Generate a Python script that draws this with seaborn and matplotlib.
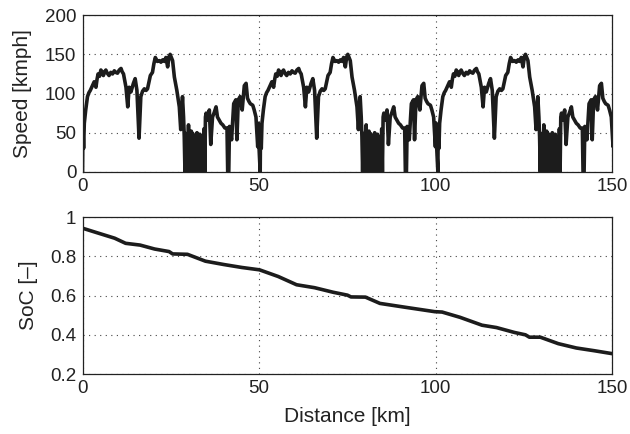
import numpy as np
import pandas as pd
import matplotlib
matplotlib.use("Agg")
import matplotlib.pyplot as plt
import seaborn as sns

# One lap of the drive cycle: distance within the lap [km] and vehicle speed [kmph]
lap_km = [
    0.0, 0.1, 0.3, 0.5, 0.9, 1.4, 1.8, 2.2, 2.8, 3.3, 3.8, 4.1, 4.4, 4.8, 5.2,
    5.6, 5.9, 6.3, 6.6, 7.0, 7.5, 8.0, 8.5, 9.0, 9.4, 9.9, 10.4, 10.9, 11.2,
    11.6, 12.3, 12.8, 13.2, 13.7, 14.4, 14.9, 15.4, 16.0,
    16.5, 17.0, 17.5, 18.0, 18.4, 19.2, 19.8, 20.2, 20.6, 21.2, 21.7, 22.2,
    22.7, 23.2, 23.6, 24.1, 24.5, 24.8, 25.5,
    26.0, 26.7, 27.4, 27.8, 28.3, 28.6, 28.8,
    29.0, 29.2, 29.4, 29.6, 29.8, 30.0, 30.2, 30.4, 30.6, 30.8, 31.0, 31.2,
    31.4, 31.6, 31.8, 32.0, 32.2, 32.4, 32.6, 32.8, 33.0, 33.2, 33.4, 33.6,
    33.8, 34.0, 34.2, 34.4, 34.6, 34.8,
    35.0, 35.4, 35.9, 36.3, 36.8, 37.3, 37.8, 38.2, 38.7, 39.2, 39.7, 40.3,
    40.9, 41.1, 41.4, 41.6, 42.2, 42.8, 43.4, 43.7, 44.1, 44.6, 45.2, 45.8,
    46.3, 46.7, 47.1, 47.5, 48.2, 48.6, 49.1, 49.6, 49.8, 50.0,
]
lap_speed = [
    0, 58, 30, 62, 79, 96, 101, 104, 110, 115, 108, 118, 125, 122, 130,
    127, 123, 128, 130, 126, 123, 127, 125, 129, 127, 126, 130, 132, 128,
    125, 108, 83, 108, 102, 113, 119, 104, 43,
    96, 103, 106, 104, 106, 123, 127, 138, 146, 141, 142, 140,
    143, 141, 146, 134, 147, 150, 142,
    121, 104, 83, 54, 96, 70, 45,
    0, 49, 0, 47, 0, 60, 0, 45, 0, 52, 0, 49, 0, 41, 0, 46, 0, 50, 0, 44,
    0, 48, 0, 40, 0, 45, 0, 55, 0, 70,
    75, 66, 79, 35, 70, 76, 83, 70, 66, 62, 60, 56,
    56, 0, 0, 58, 41, 87, 92, 41, 92, 96, 79, 110,
    113, 94, 90, 87, 85, 79, 70, 32, 62, 28,
]
lap_length_km = 50.3
n_laps = 3

# Battery state of charge along the route
soc_km = [0.0, 3.9, 9.1, 12.2, 16.3, 20.4, 24.5, 25.5, 29.7, 34.8, 40.0, 45.1,
          50.1, 55.4, 60.6, 65.7, 70.9, 75.0, 76.0, 80.1, 84.2, 91.5, 99.7,
          101.8, 106.9, 113.1, 117.2, 122.3, 125.4, 126.5, 129.6, 134.7,
          139.8, 144.9, 150.0]
soc_val = [0.943, 0.921, 0.892, 0.866, 0.857, 0.837, 0.824, 0.812, 0.810,
           0.775, 0.758, 0.743, 0.731, 0.697, 0.655, 0.640, 0.617, 0.602,
           0.593, 0.592, 0.560, 0.540, 0.518, 0.516, 0.489, 0.449, 0.437,
           0.412, 0.400, 0.388, 0.388, 0.355, 0.333, 0.319, 0.304]

# Full route: the lap is driven three times back to back
speed_df = pd.DataFrame({
    "distance": np.concatenate([np.asarray(lap_km) + i * lap_length_km
                                for i in range(n_laps)]),
    "speed": np.tile(lap_speed, n_laps),
})
soc_df = pd.DataFrame({"distance": soc_km, "soc": soc_val})

sns.set_style("white")
plt.rcParams["font.family"] = ["Liberation Sans", "DejaVu Sans"]
plt.rcParams["axes.linewidth"] = 0.9

fig = plt.figure(figsize=(6.3, 4.34), dpi=100)
ax1 = fig.add_axes([0.131, 0.604, 0.841, 0.361])
ax2 = fig.add_axes([0.131, 0.138, 0.841, 0.362])

line_color = "#1c1c1c"
sns.lineplot(data=speed_df, x="distance", y="speed", ax=ax1, color=line_color,
             linewidth=2.6, sort=False, estimator=None)
sns.lineplot(data=soc_df, x="distance", y="soc", ax=ax2, color=line_color,
             linewidth=2.6, sort=False, estimator=None)

ax1.set_ylim(0, 200)
ax1.set_yticks([0, 50, 100, 150, 200])
ax2.set_ylim(0.2, 1.0)
ax2.set_yticks([0.2, 0.4, 0.6, 0.8, 1.0])
ax2.set_yticklabels(["0.2", "0.4", "0.6", "0.8", "1"])

for ax in (ax1, ax2):
    ax.set_xlim(0, 150)
    ax.set_xticks([0, 50, 100, 150])
    ax.grid(True, color="#444444", linestyle=(0, (1, 4)), linewidth=0.8)
    ax.tick_params(direction="in", length=3, width=0.8, labelsize=13.5,
                   colors="#222222")
    ax.tick_params(axis="x", pad=4.5)
    ax.tick_params(axis="y", pad=4.5)
    for s in ax.spines.values():
        s.set_color("#222222")
        s.set_visible(True)
    ax.set_xlabel("")

ax1.set_ylabel("Speed [kmph]", fontsize=15, color="#222222", labelpad=9)
ax2.set_ylabel("SoC [\u2013]", fontsize=15, color="#222222", labelpad=9)
ax2.set_xlabel("Distance [km]", fontsize=15, color="#222222", labelpad=7)

fig.savefig("out.png", dpi=100)
